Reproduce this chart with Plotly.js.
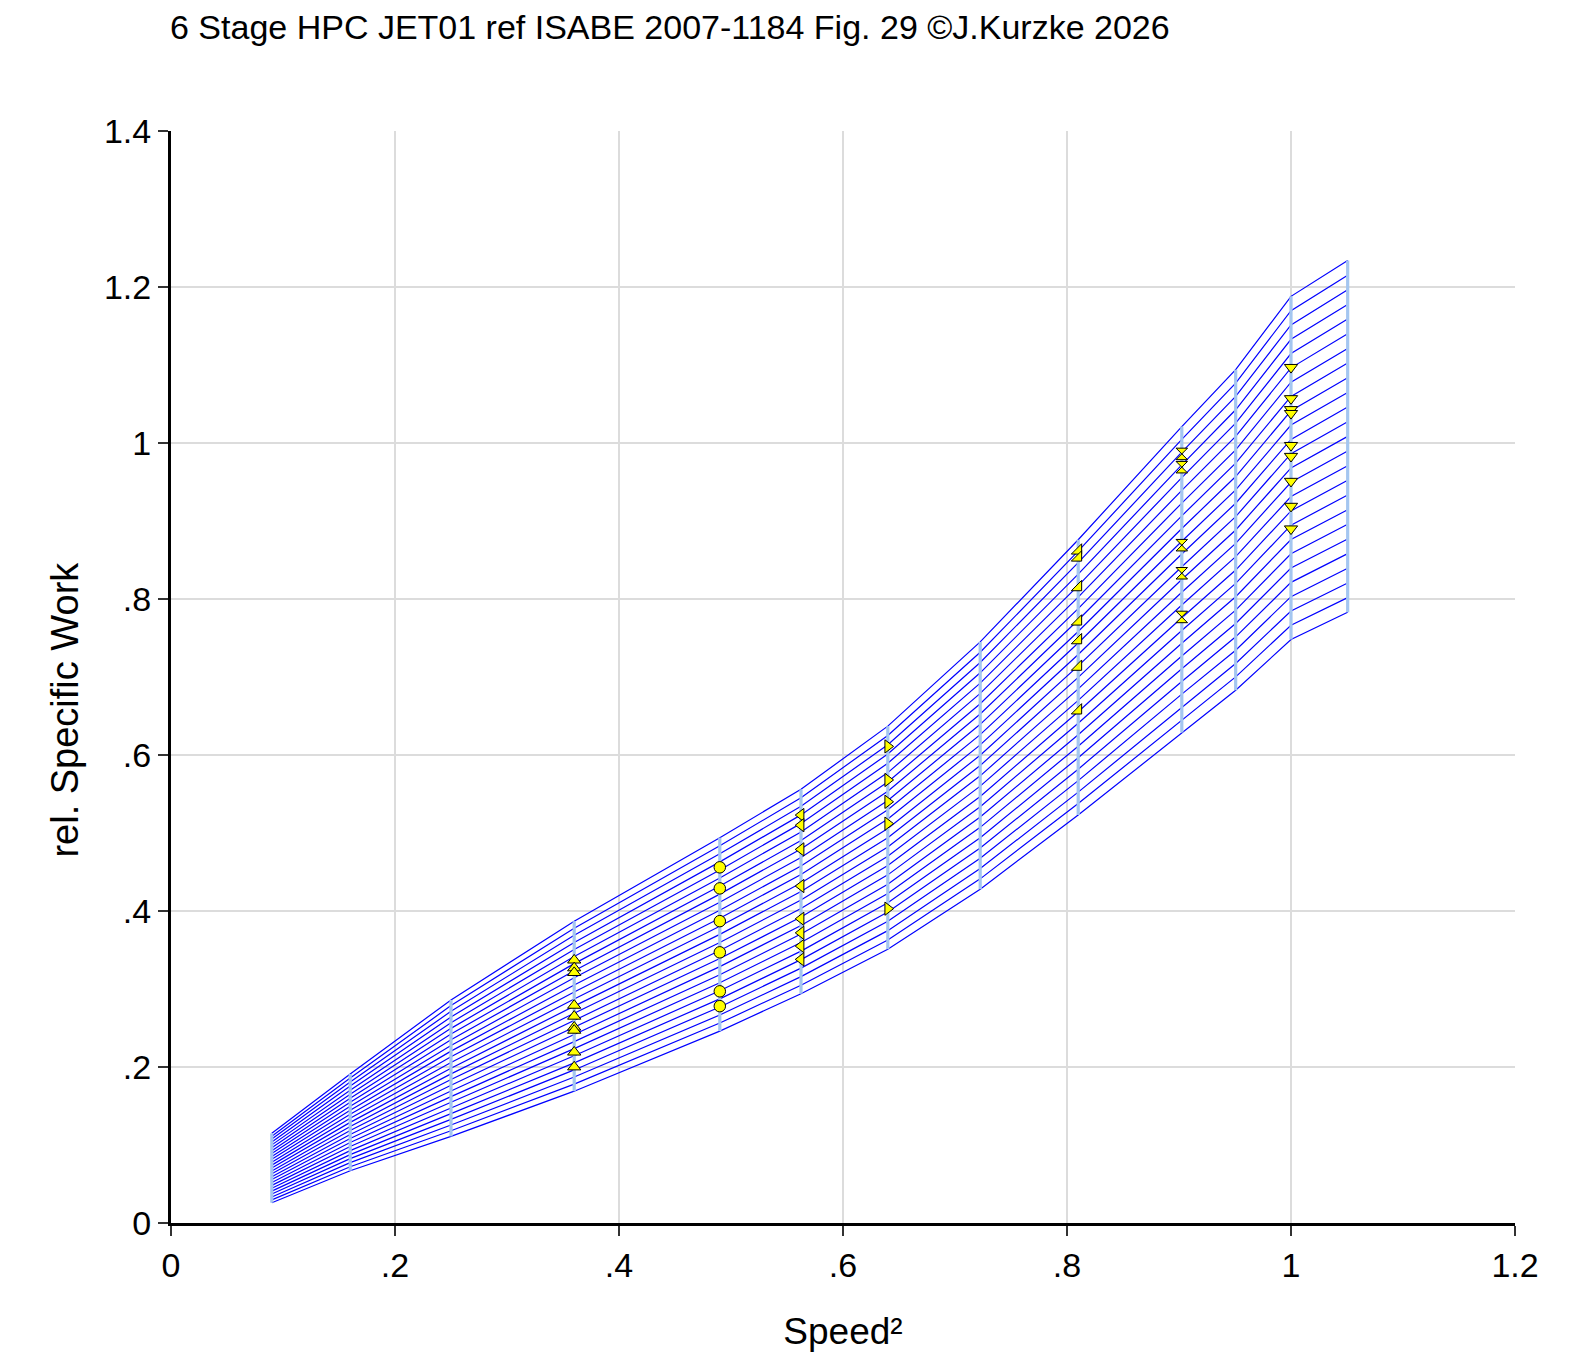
<!DOCTYPE html>
<html>
<head>
<meta charset="utf-8">
<script src="https://cdn.plot.ly/plotly-3.0.1.min.js"></script>
<style>
  html, body { margin: 0; padding: 0; background: #fff; }
  #chart { width: 1580px; height: 1352px; }
</style>
</head>
<body>
<div id="chart"></div>
<script>
/* 6 stage HPC map: rel. specific work vs. speed squared
   speed lines (light blue) + beta lines (blue) + measured points (yellow) */

// speed lines, x = (N/Nref)^2
const SPEED_SQ = [0.09, 0.16, 0.25, 0.36, 0.49, 0.5625, 0.64, 0.7225, 0.81, 0.9025, 0.9506, 1.0, 1.0506];
// upper / lower end of each speed line
const SW_TOP = [0.115, 0.191, 0.286, 0.387, 0.494, 0.556, 0.637, 0.745, 0.876, 1.021, 1.094, 1.188, 1.234];
const SW_BOT = [0.026, 0.067, 0.111, 0.169, 0.246, 0.294, 0.351, 0.428, 0.523, 0.629, 0.683, 0.748, 0.783];
// beta lines run evenly spaced between the two ends of every speed line
const N_BETA = 25;

// measured points, one group per speed
const PTS_036 = [0.337, 0.327, 0.321, 0.279, 0.265, 0.251, 0.247, 0.219, 0.200];
const PTS_049 = [0.456, 0.429, 0.387, 0.347, 0.297, 0.278];
const PTS_056 = [0.523, 0.510, 0.479, 0.432, 0.390, 0.372, 0.355, 0.338];
const PTS_064 = [0.611, 0.568, 0.540, 0.512, 0.403];
const PTS_081 = [0.862, 0.853, 0.815, 0.771, 0.747, 0.713, 0.657];
const PTS_090 = [0.986, 0.969, 0.869, 0.833, 0.777];
const PTS_100 = [1.097, 1.057, 1.043, 1.038, 0.997, 0.983, 0.951, 0.919, 0.890];

const TICKS_X = [0, 0.2, 0.4, 0.6, 0.8, 1, 1.2];
const TICKTXT_X = ['0', '.2', '.4', '.6', '.8', '1', '1.2'];
const TICKS_Y = [0, 0.2, 0.4, 0.6, 0.8, 1, 1.2, 1.4];
const TICKTXT_Y = ['0', '.2', '.4', '.6', '.8', '1', '1.2', '1.4'];

(function () {
  const FONT = 'Arial, "Liberation Sans", sans-serif';
  const traces = [];

  // beta lines, one trace broken by nulls
  const bx = [], by = [];
  for (let j = 0; j < N_BETA; j++) {
    const f = j / (N_BETA - 1);
    SPEED_SQ.forEach((s, i) => {
      bx.push(s);
      by.push(SW_BOT[i] + f * (SW_TOP[i] - SW_BOT[i]));
    });
    bx.push(null); by.push(null);
  }
  traces.push({
    type: 'scatter', mode: 'lines', x: bx, y: by, hoverinfo: 'skip',
    line: { color: '#0000ff', width: 1.2 }
  });

  // speed lines
  const sx = [], sy = [];
  SPEED_SQ.forEach((s, i) => {
    sx.push(s, s, null);
    sy.push(SW_BOT[i], SW_TOP[i], null);
  });
  traces.push({
    type: 'scatter', mode: 'lines', x: sx, y: sy, hoverinfo: 'skip',
    line: { color: '#a4c6f0', width: 3.2 }
  });

  // measured points
  const groups = [
    [0.36, PTS_036, 'triangle-up'],
    [0.49, PTS_049, 'circle'],
    [0.5625, PTS_056, 'triangle-left'],
    [0.64, PTS_064, 'triangle-right'],
    [0.81, PTS_081, 'triangle-se'],
    [0.9025, PTS_090, 'hourglass'],
    [1.0, PTS_100, 'triangle-down']
  ];
  groups.forEach(g => {
    traces.push({
      type: 'scatter', mode: 'markers',
      x: g[1].map(() => g[0]), y: g[1],
      marker: { symbol: g[2], size: 11.5, color: '#ffff00', line: { color: '#000', width: 1 } }
    });
  });

  const axis = {
    showgrid: true, gridcolor: '#dcdcdc', gridwidth: 1.5,
    showline: true, linecolor: '#000', linewidth: 3, zeroline: false,
    ticks: 'outside', ticklen: 10, tickwidth: 1.5, tickcolor: '#333',
    tickfont: { family: FONT, size: 34, color: '#000' },
    autorange: false, tickmode: 'array'
  };

  const layout = {
    width: 1580, height: 1352,
    paper_bgcolor: '#fff', plot_bgcolor: '#fff',
    showlegend: false,
    margin: { l: 171, r: 65, t: 131, b: 129 },
    title: {
      text: '6 Stage HPC JET01 ref ISABE 2007-1184 Fig. 29 ©J.Kurzke 2026',
      x: 170 / 1580, xanchor: 'left', xref: 'container',
      y: 1 - 27 / 1352, yanchor: 'middle', yref: 'container',
      font: { family: FONT, size: 34, color: '#000' }
    },
    xaxis: Object.assign({}, axis, {
      range: [0, 1.2], tickvals: TICKS_X, ticktext: TICKTXT_X,
      title: { text: 'Speed²', standoff: 36, font: { family: FONT, size: 37, color: '#000' } }
    }),
    yaxis: Object.assign({}, axis, {
      range: [0, 1.4], tickvals: TICKS_Y, ticktext: TICKTXT_Y
    }),
    annotations: [{
      text: 'rel. Specific Work', textangle: -90, showarrow: false,
      xref: 'paper', yref: 'paper', x: -0.079, y: 0.47,
      xanchor: 'center', yanchor: 'middle',
      font: { family: FONT, size: 38, color: '#000' }
    }]
  };

  Plotly.newPlot('chart', traces, layout, { staticPlot: true, displayModeBar: false });
})();
</script>
</body>
</html>
